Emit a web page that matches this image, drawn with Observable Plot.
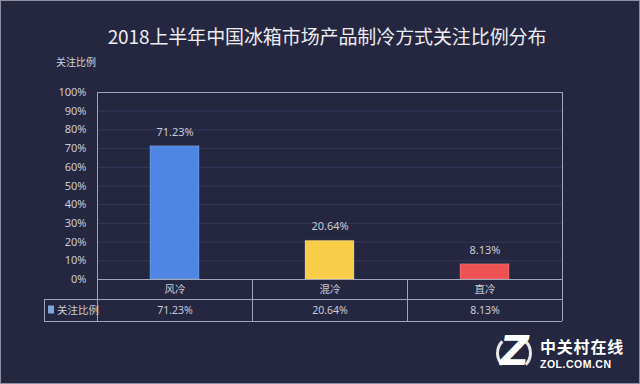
<!DOCTYPE html>
<html>
<head>
<meta charset="utf-8">
<script src="https://cdn.jsdelivr.net/npm/d3@7"></script>
<script src="https://cdn.jsdelivr.net/npm/@observablehq/plot@0.6"></script>
<style>
  html, body { margin: 0; padding: 0; background: #252740; }
  #wrap { position: relative; width: 640px; height: 384px; background: #252740; overflow: hidden;
          font-family: "Noto Sans CJK SC", "Noto Sans", sans-serif; }
  #border { position: absolute; left: 0; top: 0; width: 638px; height: 382px; border: 1px solid #8e8fa0; pointer-events: none; }
  #title { position: absolute; left: 0; width: 654px; top: 24px; text-align: center; font-size: 19px; color: #ececf2; letter-spacing: -0.1px; line-height: 1.3; }
  #ylabel { position: absolute; left: 56px; top: 56px; font-size: 10px; color: #d0d2dc; line-height: 1.2; }
  #chart { position: absolute; left: 0; top: 0; }
  #wm { position: absolute; left: 498px; top: 334px; color: #ffffff; }
  #wm .z { position: absolute; left: 2px; top: -3px; font: italic 900 40px/1 "DejaVu Sans", sans-serif; }
  #wm .ring { position: absolute; left: -2px; top: 1px; width: 36px; height: 36px; border-radius: 50%; border-left: 3px solid #ffffff; border-right: 3px solid #ffffff; border-top: 3px solid transparent; border-bottom: 3px solid transparent; box-sizing: border-box; opacity: 0.9; }
  #wm .cn { position: absolute; left: 42px; top: 4px; height: 16px; font-size: 16px; font-weight: 700; white-space: nowrap; letter-spacing: 0.8px; line-height: 16px; }
  #wm .en { position: absolute; left: 42px; top: 25px; height: 10px; font: 700 10.5px/10px "Liberation Sans", sans-serif; white-space: nowrap; letter-spacing: 0.5px; }
</style>
</head>
<body>
<div id="wrap">
  <div id="chart"></div>
  <div id="title"></div>
  <div id="ylabel"></div>
  <div id="wm"><div class="ring"></div><div class="z">Z</div><div class="cn">中关村在线</div><div class="en">ZOL.COM.CN</div></div>
  <div id="border"></div>
</div>
<script>
const titleText = "2018上半年中国冰箱市场产品制冷方式关注比例分布";
const seriesName = "关注比例";
const categories = ["风冷", "混冷", "直冷"];
const values = [0.7123, 0.2064, 0.0813];
const colors = ["#4f86e3", "#f8cd47", "#ef5252"];
const yTicks = [0, 0.1, 0.2, 0.3, 0.4, 0.5, 0.6, 0.7, 0.8, 0.9, 1.0];

document.getElementById("title").textContent = titleText;
document.getElementById("ylabel").textContent = seriesName;

const data = categories.map((c, i) => ({cat: c, value: values[i], color: colors[i]}));
const pct = d3.format(".2%");
const textColor = "#c9cbd8";
const lineColor = "#a3a5b8";

const plot = Plot.plot({
  width: 640,
  height: 384,
  marginLeft: 97,
  marginRight: 78,
  marginTop: 92,
  marginBottom: 105,
  style: {background: "transparent", color: textColor, fontSize: "11px", fontFamily: "'Noto Sans', 'Noto Sans CJK SC', sans-serif", overflow: "visible"},
  x: {domain: categories, padding: 0, axis: null},
  y: {domain: [0, 1], axis: null},
  marks: [
    Plot.ruleY(yTicks.slice(1, -1), {stroke: "#34375a", strokeWidth: 1}),
    Plot.axisY({ticks: yTicks, tickFormat: d3.format(".0%"), tickSize: 0, tickPadding: 11, fill: textColor, fontSize: 11, label: null}),
    Plot.barY(data, {x: "cat", y: "value", fill: "color", insetLeft: 53, insetRight: 53, stroke: "#ffffff", strokeOpacity: 0.2}),
    Plot.text(data, {x: "cat", y: "value", text: d => pct(d.value), dy: -14, fill: textColor, fontSize: 11}),
    Plot.frame({stroke: lineColor, strokeWidth: 1}),
    Plot.text(data, {x: "cat", y: 0, text: "cat", dy: 10, fill: textColor, fontSize: 10.5, fontFamily: "'Noto Sans CJK SC', sans-serif"}),
    Plot.text(data, {x: "cat", y: 0, text: d => pct(d.value), dy: 31, fill: textColor, fontSize: 10.5})
  ]
});
document.getElementById("chart").appendChild(plot);

// table grid drawn from the plot's own scales
const xs = plot.scale("x");
const ys = plot.scale("y");
const y0 = ys.apply(0);
const bw = xs.bandwidth;
const left = xs.apply(categories[0]);
const right = xs.apply(categories[categories.length - 1]) + bw;
const legendLeft = left - 53;
const row1 = y0 + 20, row2 = y0 + 42;
const svg = d3.select(plot);
const g = svg.append("g").attr("stroke", lineColor).attr("stroke-width", 1).attr("shape-rendering", "crispEdges");
g.append("line").attr("x1", legendLeft).attr("x2", right).attr("y1", row1).attr("y2", row1);
g.append("line").attr("x1", legendLeft).attr("x2", right).attr("y1", row2).attr("y2", row2);
g.append("line").attr("x1", legendLeft).attr("x2", legendLeft).attr("y1", row1).attr("y2", row2);
categories.forEach(c => {
  const xb = xs.apply(c);
  g.append("line").attr("x1", xb).attr("x2", xb).attr("y1", y0).attr("y2", row2);
});
g.append("line").attr("x1", right).attr("x2", right).attr("y1", y0).attr("y2", row2);
svg.append("rect").attr("x", legendLeft + 4).attr("y", (row1 + row2) / 2 - 4.5).attr("width", 6).attr("height", 8).attr("fill", "#7ea6da");
svg.append("text").attr("x", legendLeft + 13).attr("y", (row1 + row2) / 2).attr("dy", "0.35em")
  .attr("text-anchor", "start")
  .attr("fill", textColor).attr("font-size", 10.5).attr("font-family", "'Noto Sans CJK SC', sans-serif").text(seriesName);
</script>
</body>
</html>
